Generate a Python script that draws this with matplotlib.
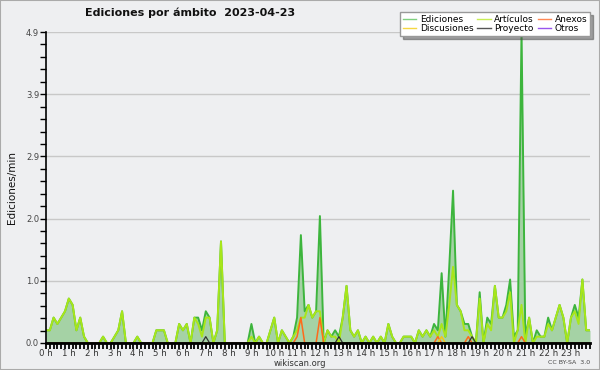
import numpy as np
import matplotlib
matplotlib.use("Agg")
import matplotlib.pyplot as plt
from matplotlib.patches import Rectangle

# values every 10 minutes (6 per hour), edits per minute
ediciones = [
    0.2, 0.2, 0.4, 0.3, 0.4, 0.5,   # 0h
    0.7, 0.6, 0.2, 0.4, 0.1, 0.0,   # 1h
    0.0, 0.0, 0.0, 0.1, 0.0, 0.0,   # 2h
    0.1, 0.2, 0.5, 0.0, 0.0, 0.0,   # 3h
    0.1, 0.0, 0.0, 0.0, 0.0, 0.2,   # 4h
    0.2, 0.2, 0.0, 0.0, 0.0, 0.3,   # 5h
    0.2, 0.3, 0.0, 0.4, 0.4, 0.2,   # 6h
    0.5, 0.4, 0.0, 0.2, 1.6, 0.0,   # 7h
    0.0, 0.0, 0.0, 0.0, 0.0, 0.0,   # 8h
    0.3, 0.0, 0.1, 0.0, 0.0, 0.2,   # 9h
    0.4, 0.0, 0.2, 0.1, 0.0, 0.1,   # 10h
    0.4, 1.7, 0.5, 0.6, 0.4, 0.5,   # 11h
    2.0, 0.0, 0.2, 0.1, 0.2, 0.1,   # 12h
    0.4, 0.9, 0.2, 0.1, 0.2, 0.0,   # 13h
    0.1, 0.0, 0.1, 0.0, 0.1, 0.0,   # 14h
    0.3, 0.1, 0.0, 0.0, 0.1, 0.1,   # 15h
    0.1, 0.0, 0.2, 0.1, 0.2, 0.1,   # 16h
    0.3, 0.2, 1.1, 0.1, 1.2, 2.4,   # 17h
    0.6, 0.5, 0.3, 0.3, 0.1, 0.0,   # 18h
    0.8, 0.0, 0.4, 0.3, 0.9, 0.4,   # 19h
    0.4, 0.6, 1.0, 0.1, 0.2, 4.9,   # 20h
    0.1, 0.4, 0.0, 0.2, 0.1, 0.1,   # 21h
    0.4, 0.2, 0.4, 0.6, 0.4, 0.0,   # 22h
    0.4, 0.6, 0.4, 1.0, 0.2, 0.2,   # 23h
]

articulos = [
    0.2, 0.2, 0.4, 0.3, 0.4, 0.5,
    0.7, 0.6, 0.2, 0.4, 0.1, 0.0,
    0.0, 0.0, 0.0, 0.1, 0.0, 0.0,
    0.1, 0.2, 0.5, 0.0, 0.0, 0.0,
    0.1, 0.0, 0.0, 0.0, 0.0, 0.2,
    0.2, 0.2, 0.0, 0.0, 0.0, 0.3,
    0.2, 0.3, 0.0, 0.4, 0.3, 0.1,
    0.4, 0.4, 0.0, 0.2, 1.6, 0.0,
    0.0, 0.0, 0.0, 0.0, 0.0, 0.0,
    0.1, 0.0, 0.1, 0.0, 0.0, 0.2,
    0.4, 0.0, 0.2, 0.1, 0.0, 0.1,
    0.2, 0.4, 0.4, 0.6, 0.4, 0.5,
    0.5, 0.0, 0.2, 0.1, 0.1, 0.0,
    0.4, 0.9, 0.2, 0.1, 0.2, 0.0,
    0.1, 0.0, 0.1, 0.0, 0.1, 0.0,
    0.3, 0.1, 0.0, 0.0, 0.1, 0.1,
    0.1, 0.0, 0.2, 0.1, 0.2, 0.1,
    0.2, 0.1, 0.3, 0.1, 0.6, 1.2,
    0.6, 0.5, 0.2, 0.2, 0.1, 0.0,
    0.7, 0.0, 0.3, 0.2, 0.9, 0.4,
    0.4, 0.5, 0.8, 0.0, 0.2, 0.6,
    0.0, 0.4, 0.0, 0.1, 0.1, 0.1,
    0.3, 0.2, 0.4, 0.6, 0.4, 0.0,
    0.4, 0.5, 0.3, 1.0, 0.2, 0.2,
]

# sparse series: {slot index: value}
anexos_pts = {66: 0.1, 67: 0.4, 72: 0.4, 103: 0.1, 111: 0.1, 125: 0.1}
discusiones_pts = {104: 0.1}
proyecto_pts = {42: 0.1, 77: 0.1, 112: 0.1}
otros_pts = {}

n = len(ediciones)
anexos = [anexos_pts.get(i, 0.0) for i in range(n)]
discusiones = [discusiones_pts.get(i, 0.0) for i in range(n)]
proyecto = [proyecto_pts.get(i, 0.0) for i in range(n)]
otros = [otros_pts.get(i, 0.0) for i in range(n)]

hour_labels = [f"{h} h" for h in range(24)]
ymax = 4.9

bg = "#eeeff1"
fig = plt.figure(figsize=(6, 3.7), dpi=100, facecolor=bg)
ax = fig.add_axes([46 / 600, 1 - 343 / 370, 544 / 600, 311 / 370], facecolor=bg)

x = np.arange(n)
ax.fill_between(x, ediciones, color="#a5d2a5", lw=0, zorder=1)
ax.plot(x, ediciones, color="#3db53d", lw=1.4, zorder=2)
ax.plot(x, articulos, color="#a8e61a", lw=1.4, zorder=2.1)
ax.plot(x, anexos, color="#ff6a1a", lw=1.1, zorder=2.2)
ax.plot(x, discusiones, color="#f5c518", lw=1.1, zorder=2.2)
ax.plot(x, proyecto, color="#333333", lw=0.9, zorder=2.2)
ax.plot(x, otros, color="#9b4dff", lw=0.9, zorder=2.0)

ax.set_xlim(0, n - 1)
ax.set_ylim(0, ymax)

yt = np.linspace(0, ymax, 6)
ax.set_yticks(yt)
ax.set_yticklabels([f"{v:.1f}" for v in yt])
ax.set_yticks(np.linspace(0, ymax, 26), minor=True)
ax.set_xticks(np.arange(0, n, 6))
ax.set_xticklabels(hour_labels)
ax.set_xticks(np.arange(0, n), minor=True)

ax.grid(axis="y", color="#c8c8c8", lw=1)
ax.set_axisbelow(True)
for s in ["top", "right"]:
    ax.spines[s].set_visible(False)
ax.spines["left"].set_linewidth(1.2)
ax.spines["bottom"].set_linewidth(2)
for s in ax.spines.values():
    s.set_zorder(3)

ax.tick_params(axis="y", which="both", direction="out", length=4, width=1,
               labelsize=6, labelcolor="#444444", pad=1)
ax.tick_params(axis="x", which="both", direction="out", length=4, width=1.3,
               labelsize=6.2, labelcolor="#333333", pad=0)

ax.set_ylabel("Ediciones/min", fontsize=7.5, color="#111111", labelpad=6)

fig.text(85 / 600, 1 - 13 / 370, "Ediciones por ámbito  2023-04-23",
         fontsize=8, fontweight="bold", ha="left", va="center", color="#111111")

handles = [
    plt.Line2D([], [], color="#7fd07f", lw=1),
    plt.Line2D([], [], color="#f5d742", lw=1),
    plt.Line2D([], [], color="#c8ee55", lw=1),
    plt.Line2D([], [], color="#555555", lw=1),
    plt.Line2D([], [], color="#ff8855", lw=1),
    plt.Line2D([], [], color="#9955ee", lw=1),
]
labels = ["Ediciones", "Discusiones", "Artículos", "Proyecto", "Anexos", "Otros"]
leg = fig.legend(handles, labels, ncol=3, loc="upper right",
                 bbox_to_anchor=(590 / 600, 1 - 12 / 370), borderaxespad=0,
                 fontsize=6.5, handlelength=1.5, handletextpad=0.4,
                 columnspacing=0.4, labelspacing=0.05, borderpad=0.3,
                 fancybox=False, shadow=True, framealpha=1,
                 edgecolor="#999999", facecolor="white")
leg.set_zorder(10)

fig.text(0.5, 1 - 363 / 370, "wikiscan.org", fontsize=6, ha="center",
         va="center", color="#333333")
fig.text(590 / 600, 1 - 362 / 370, "CC BY-SA  3.0", fontsize=4.5, ha="right",
         va="center", color="#444444")

fig.patches.append(Rectangle((0, 0), 1, 1, transform=fig.transFigure,
                             fill=False, edgecolor="#aaaaaa", lw=1.5))

fig.savefig("out.png", dpi=100, facecolor=bg)
